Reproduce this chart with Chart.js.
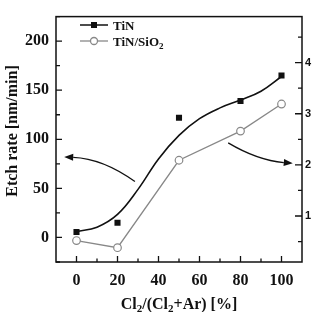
<!DOCTYPE html>
<html>
<head>
<meta charset="utf-8">
<script src="https://cdn.jsdelivr.net/npm/chart.js"></script>
<style>
  html, body { margin: 0; padding: 0; background: #fff; }
  #wrap { width: 321px; height: 312px; }
</style>
</head>
<body>
<div id="wrap"><canvas id="chart" width="321" height="312"></canvas></div>
<script>
// data
const clFraction = [0, 20, 50, 80, 100];
const tinRate = [5.5, 15, 122, 139, 165];          // left axis, nm/min
const tinSio2Ratio = [0.52, 0.38, 2.09, 2.66, 3.19]; // right axis
const fitX = [0, 10, 20, 30, 40, 50, 60, 70, 80, 90, 100];
const fitY = [6, 10.5, 23.5, 49, 80, 104, 121, 132, 140, 149, 164];

const xTicks = [0, 20, 40, 60, 80, 100];
const xMinor = [10, 30, 50, 70, 90];
const leftTicks = [0, 50, 100, 150, 200];
const leftMinor = [-25, 25, 75, 125, 175, 225];
const rightTicks = [1, 2, 3, 4];
const rightMinor = [0.5, 1.5, 2.5, 3.5, 4.5];

// arrows: [start, middle, end] in data units, and which y axis
const arrowLeft = { axis: 'y', pts: [[28.5, 57], [12, 75], [-6, 82]] };
const arrowRight = { axis: 'y1', pts: [[74, 2.43], [89, 2.16], [105.5, 2.03]] };

const serif = '"Liberation Serif", "Times New Roman", serif';
const sans = '"Liberation Sans", Arial, sans-serif';

const toXY = (xs, ys) => xs.map((x, i) => ({ x: x, y: ys[i] }));

const extrasPlugin = {
    id: 'extras',
    afterDatasetsDraw(chart) {
        const ctx = chart.ctx;
        const xs = chart.scales.x;
        // arrows
        [arrowLeft, arrowRight].forEach(a => {
            const ys = chart.scales[a.axis];
            const p = a.pts.map(q => [xs.getPixelForValue(q[0]), ys.getPixelForValue(q[1])]);
            const c = [2 * p[1][0] - (p[0][0] + p[2][0]) / 2, 2 * p[1][1] - (p[0][1] + p[2][1]) / 2];
            const ang = Math.atan2(p[2][1] - c[1], p[2][0] - c[0]);
            const hl = 9, hw = 3.5;
            const bx = p[2][0] - hl * Math.cos(ang), by = p[2][1] - hl * Math.sin(ang);
            ctx.save();
            ctx.strokeStyle = '#111';
            ctx.lineWidth = 1.3;
            ctx.beginPath();
            ctx.moveTo(p[0][0], p[0][1]);
            ctx.quadraticCurveTo(c[0], c[1], bx, by);
            ctx.stroke();
            ctx.fillStyle = '#111';
            ctx.beginPath();
            ctx.moveTo(p[2][0], p[2][1]);
            ctx.lineTo(bx + hw * Math.sin(ang), by - hw * Math.cos(ang));
            ctx.lineTo(bx - hw * Math.sin(ang), by + hw * Math.cos(ang));
            ctx.closePath();
            ctx.fill();
            ctx.restore();
        });
    },
    afterDraw(chart) {
        const ctx = chart.ctx;
        const a = chart.chartArea;
        const xs = chart.scales.x, yl = chart.scales.y, yr = chart.scales.y1;
        ctx.save();
        ctx.strokeStyle = '#111';
        ctx.lineWidth = 1.5;
        ctx.strokeRect(a.left, a.top, a.right - a.left, a.bottom - a.top);

        ctx.lineWidth = 1.3;
        ctx.beginPath();
        const tick = (x1, y1, x2, y2) => { ctx.moveTo(x1, y1); ctx.lineTo(x2, y2); };
        xTicks.forEach(v => { const px = xs.getPixelForValue(v); tick(px, a.bottom, px, a.bottom - 6); });
        xMinor.forEach(v => { const px = xs.getPixelForValue(v); tick(px, a.bottom, px, a.bottom - 3.5); });
        leftTicks.forEach(v => { const py = yl.getPixelForValue(v); tick(a.left, py, a.left + 6, py); });
        leftMinor.forEach(v => { const py = yl.getPixelForValue(v); tick(a.left, py, a.left + 4, py); });
        rightTicks.forEach(v => { const py = yr.getPixelForValue(v); tick(a.right, py, a.right - 7, py); });
        rightMinor.forEach(v => { const py = yr.getPixelForValue(v); tick(a.right, py, a.right - 4, py); });
        ctx.stroke();

        // legend
        ctx.lineWidth = 1.5;
        ctx.strokeStyle = '#111';
        ctx.beginPath(); tick(80, 25, 108, 25); ctx.stroke();
        ctx.fillStyle = '#111';
        ctx.fillRect(91, 22, 6, 6);
        ctx.strokeStyle = '#888';
        ctx.lineWidth = 1.3;
        ctx.beginPath(); tick(80, 41, 108, 41); ctx.stroke();
        ctx.fillStyle = '#fff';
        ctx.beginPath(); ctx.arc(94, 41, 3.5, 0, Math.PI * 2); ctx.fill(); ctx.stroke();

        ctx.fillStyle = '#111';
        ctx.textBaseline = 'alphabetic';
        ctx.textAlign = 'left';
        ctx.font = 'bold 13px ' + serif;
        ctx.fillText('TiN', 113, 30);
        ctx.fillText('TiN/SiO', 113, 46);
        let w = ctx.measureText('TiN/SiO').width;
        ctx.font = 'bold 9px ' + serif;
        ctx.fillText('2', 113 + w, 49);

        // x title with subscripts
        const parts = [['Cl', false], ['2', true], ['/(Cl', false], ['2', true], ['+Ar) [%]', false]];
        const big = 'bold 16px ' + serif, small = 'bold 11px ' + serif;
        let total = 0;
        parts.forEach(p => { ctx.font = p[1] ? small : big; total += ctx.measureText(p[0]).width; });
        let x = (a.left + a.right) / 2 - total / 2;
        parts.forEach(p => {
            ctx.font = p[1] ? small : big;
            ctx.fillText(p[0], x, p[1] ? 312 : 309);
            x += ctx.measureText(p[0]).width;
        });

        // y title
        ctx.translate(17, 131);
        ctx.rotate(-Math.PI / 2);
        ctx.textAlign = 'center';
        ctx.font = 'bold 16px ' + serif;
        ctx.fillText('Etch rate [nm/min]', 0, 0);
        ctx.restore();
    }
};

new Chart(document.getElementById('chart'), {
    type: 'line',
    data: {
        datasets: [
            {
                label: 'TiN fit',
                data: toXY(fitX, fitY),
                yAxisID: 'y',
                borderColor: '#111',
                borderWidth: 1.6,
                pointRadius: 0,
                tension: 0.4,
                fill: false
            },
            {
                label: 'TiN',
                data: toXY(clFraction, tinRate),
                yAxisID: 'y',
                showLine: false,
                pointStyle: 'rect',
                pointRadius: 4.3,
                pointBackgroundColor: '#111',
                pointBorderColor: '#111',
                pointBorderWidth: 0
            },
            {
                label: 'TiN/SiO2',
                data: toXY(clFraction, tinSio2Ratio),
                yAxisID: 'y1',
                borderColor: '#888',
                borderWidth: 1.3,
                pointStyle: 'circle',
                pointRadius: 3.8,
                pointBackgroundColor: '#fff',
                pointBorderColor: '#888',
                pointBorderWidth: 1.2,
                tension: 0
            }
        ]
    },
    options: {
        responsive: false,
        animation: false,
        layout: { padding: { top: 3, left: 0, right: 0, bottom: 0 } },
        plugins: { legend: { display: false }, tooltip: { enabled: false } },
        scales: {
            x: {
                type: 'linear',
                min: -10,
                max: 110,
                afterBuildTicks: s => { s.ticks = xTicks.map(v => ({ value: v })); },
                afterFit: s => { s.height = 50; },
                grid: { display: false, drawTicks: false },
                border: { display: false },
                ticks: { padding: 9, color: '#111', font: { family: serif, size: 16, weight: 'bold' } }
            },
            y: {
                position: 'left',
                min: -25,
                max: 225,
                afterBuildTicks: s => { s.ticks = leftTicks.map(v => ({ value: v })); },
                afterFit: s => { s.width = 56; },
                grid: { display: false, drawTicks: false },
                border: { display: false },
                ticks: { padding: 7, color: '#111', font: { family: serif, size: 16, weight: 'bold' } }
            },
            y1: {
                position: 'right',
                min: 0.1,
                max: 4.9,
                afterBuildTicks: s => { s.ticks = rightTicks.map(v => ({ value: v })); },
                afterFit: s => { s.width = 19; },
                grid: { display: false, drawTicks: false },
                border: { display: false },
                ticks: { padding: 3, color: '#111', font: { family: sans, size: 11, weight: 'bold' } }
            }
        }
    },
    plugins: [extrasPlugin]
});
</script>
</body>
</html>
